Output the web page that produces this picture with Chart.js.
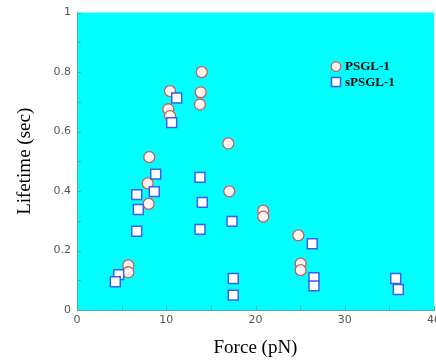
<!DOCTYPE html>
<html>
<head>
<meta charset="utf-8">
<script src="https://cdn.jsdelivr.net/npm/chart.js@4/dist/chart.umd.min.js"></script>
<style>
  html, body { margin: 0; padding: 0; background: #ffffff; overflow: hidden; width: 436px; height: 360px; }
  #wrap { position: absolute; left: 0; top: 0; width: 460px; height: 360px; }
</style>
</head>
<body>
<div id="wrap"><canvas id="c" width="460" height="360"></canvas></div>
<script>
// ---- data ----
const seriesNames = ['PSGL-1', 'sPSGL-1'];
const forcePSGL    = [13.97, 10.42, 13.86, 13.78, 10.23, 10.42, 16.95, 8.10, 7.92, 8.03, 17.06, 5.75, 5.75, 20.87, 20.87, 24.80, 25.06, 25.06];
const lifetimePSGL = [0.800, 0.736, 0.732, 0.691, 0.675, 0.652, 0.560, 0.514, 0.426, 0.357, 0.399, 0.150, 0.127, 0.334, 0.314, 0.251, 0.156, 0.134];
const forceSPSGL    = [11.17, 10.61, 8.82, 8.66, 6.69, 6.87, 6.69, 13.78, 14.04, 13.78, 17.37, 17.51, 17.51, 4.67, 4.29, 26.36, 26.55, 26.55, 35.71, 36.00];
const lifetimeSPSGL = [0.713, 0.630, 0.457, 0.398, 0.388, 0.338, 0.265, 0.446, 0.362, 0.271, 0.298, 0.106, 0.050, 0.119, 0.095, 0.223, 0.109, 0.081, 0.106, 0.069];
const xTicks = [0, 10, 20, 30, 40];
const yTicks = [0, 0.2, 0.4, 0.6, 0.8, 1];
const xMinorTicks = [0, 5, 10, 15, 20, 25, 30, 35, 40];
const yMinorTicks = [0, 0.1, 0.2, 0.3, 0.4, 0.5, 0.6, 0.7, 0.8, 0.9, 1];
const xTitle = 'Force (pN)';
const yTitle = 'Lifetime (sec)';

const toPoints = (xs, ys) => xs.map((x, i) => ({ x: x, y: ys[i] }));

const bgPlugin = {
  id: 'bgPlugin',
  beforeDraw(chart) {
    const { ctx, chartArea: a } = chart;
    ctx.save();
    ctx.fillStyle = '#00ffff';
    ctx.fillRect(a.left, a.top, a.right - a.left, a.bottom - a.top);
    ctx.restore();
  },
  beforeDatasetsDraw(chart) {
    const { ctx, chartArea: a, scales } = chart;
    ctx.save();
    ctx.strokeStyle = '#55aaaa';
    ctx.lineWidth = 1;
    ctx.beginPath();
    xMinorTicks.forEach(v => {
      const px = Math.round(scales.x.getPixelForValue(v)) + 0.5;
      ctx.moveTo(px, a.bottom);
      ctx.lineTo(px, a.bottom - 4);
    });
    yMinorTicks.forEach(v => {
      const py = Math.round(scales.y.getPixelForValue(v)) + 0.5;
      ctx.moveTo(a.left, py);
      ctx.lineTo(a.left + 4, py);
    });
    ctx.stroke();
    ctx.restore();
  },
  afterDraw(chart) {
    const { ctx } = chart;
    const lx = 336, ly = 66.5, gap = 15.5;
    ctx.save();
    chart.data.datasets.forEach((ds, i) => {
      const y = ly + i * gap;
      ctx.fillStyle = ds.backgroundColor;
      ctx.strokeStyle = ds.borderColor;
      ctx.lineWidth = ds.borderWidth;
      Chart.helpers.drawPoint(ctx, {
        pointStyle: ds.pointStyle,
        radius: ds.pointStyle === 'rect' ? 6.4 : 4.8,
        rotation: 0,
        borderWidth: ds.borderWidth
      }, lx, y);
      ctx.fillStyle = '#000000';
      ctx.font = 'bold 13px "Liberation Serif", serif';
      ctx.textAlign = 'left';
      ctx.textBaseline = 'middle';
      ctx.fillText(ds.label, lx + 9, y + 0.5);
    });
    ctx.restore();
  }
};

new Chart(document.getElementById('c'), {
  type: 'scatter',
  data: {
    datasets: [
      {
        label: seriesNames[0],
        data: toPoints(forcePSGL, lifetimePSGL),
        pointStyle: 'circle',
        pointRadius: 5.5,
        pointHoverRadius: 5.5,
        backgroundColor: '#fff2f0',
        borderColor: '#c0605a',
        borderWidth: 1.3,
        order: 1
      },
      {
        label: seriesNames[1],
        data: toPoints(forceSPSGL, lifetimeSPSGL),
        pointStyle: 'rect',
        pointRadius: 7,
        pointHoverRadius: 7,
        backgroundColor: '#ffffff',
        borderColor: '#3a5ef0',
        borderWidth: 1.5,
        order: 0
      }
    ]
  },
  options: {
    responsive: false,
    animation: false,
    devicePixelRatio: 1,
    layout: { padding: { top: 11, right: 26, left: 0, bottom: 0 } },
    plugins: { legend: { display: false }, tooltip: { enabled: false } },
    scales: {
      x: {
        type: 'linear',
        min: 0, max: 40,
        afterBuildTicks: s => { s.ticks = xTicks.map(v => ({ value: v })); },
        afterFit: s => { s.height = 50; },
        grid: { display: true, drawOnChartArea: false, drawTicks: false },
        border: { display: true, color: '#44aaaa', width: 1 },
        ticks: {
          padding: 4,
          color: '#555555',
          font: { family: '"DejaVu Sans", sans-serif', size: 11 },
          maxRotation: 0,
          callback: v => String(v)
        },
        title: {
          display: true,
          text: xTitle,
          color: '#000000',
          font: { family: '"Liberation Serif", serif', size: 19 },
          padding: { top: 0, bottom: 1 }
        }
      },
      y: {
        type: 'linear',
        min: 0, max: 1,
        afterBuildTicks: s => { s.ticks = yTicks.map(v => ({ value: v })); },
        afterFit: s => { s.width = 77; },
        grid: { display: true, drawOnChartArea: false, drawTicks: false },
        border: { display: true, color: '#44aaaa', width: 1 },
        ticks: {
          padding: 6,
          color: '#555555',
          font: { family: '"DejaVu Sans", sans-serif', size: 11 },
          callback: v => String(Math.round(v * 10) / 10)
        },
        title: {
          display: true,
          text: yTitle,
          color: '#000000',
          font: { family: '"Liberation Serif", serif', size: 19 },
          padding: { top: 14, bottom: 0 }
        }
      }
    }
  },
  plugins: [bgPlugin]
});
</script>
</body>
</html>
